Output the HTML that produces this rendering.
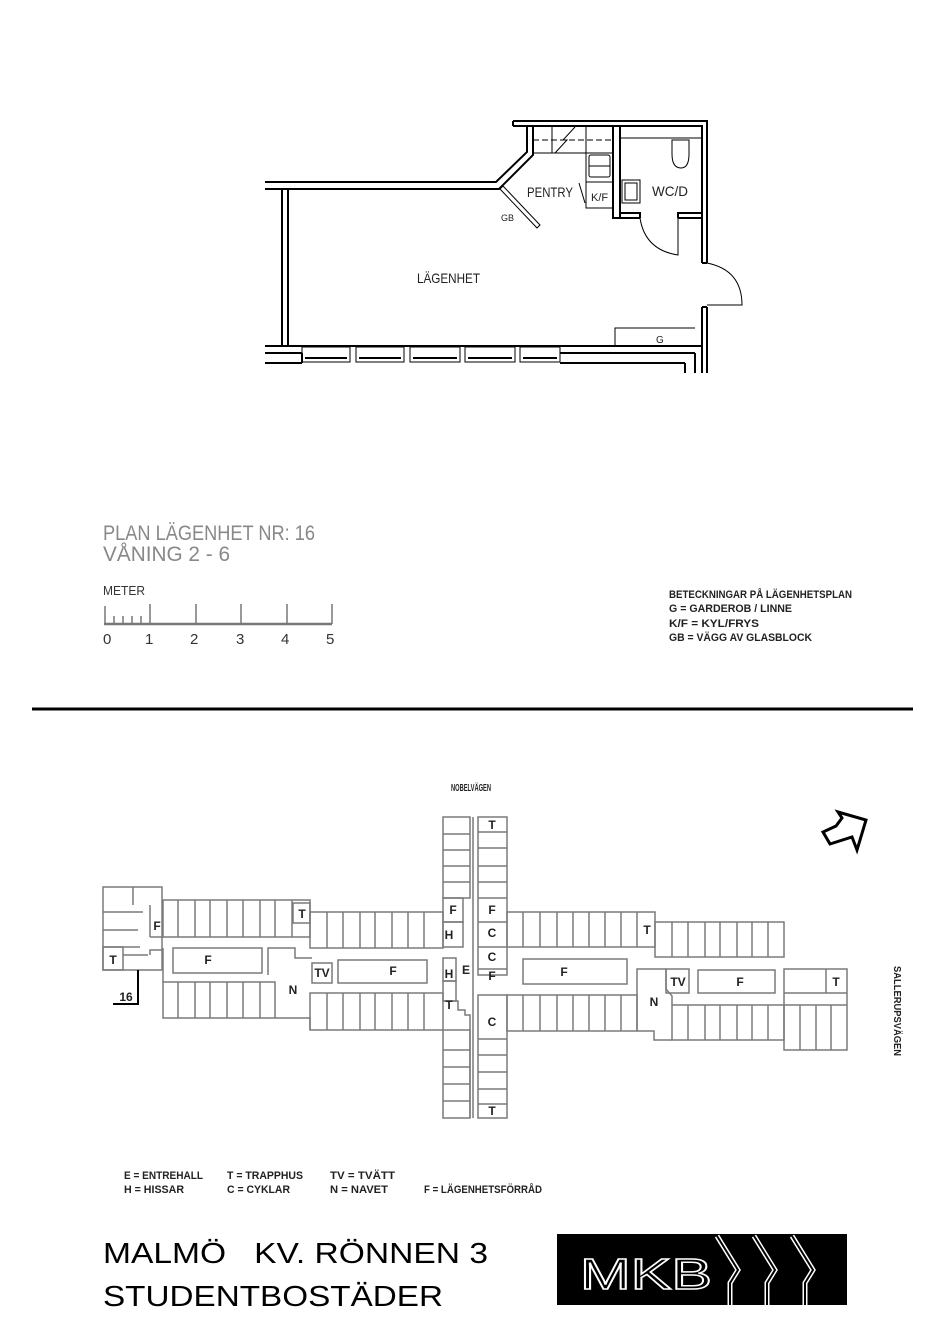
<!DOCTYPE html>
<html><head><meta charset="utf-8"><style>
html,body{margin:0;padding:0;background:#fff;}
svg{display:block;font-family:"Liberation Sans",sans-serif;}
</style></head><body>
<svg width="950" height="1341" viewBox="0 0 950 1341" xmlns="http://www.w3.org/2000/svg">
<rect width="950" height="1341" fill="#fff"/>
<!-- ===== Apartment plan ===== -->
<g fill="none" stroke="#000" stroke-width="2">
  <polyline points="513,121 707,121 707,263"/>
  <polyline points="513,126 702,126 702,263"/>
  <line x1="513" y1="121" x2="513" y2="126"/>
  <polyline points="707,307 707,373"/>
  <polyline points="702,307 702,373"/>
  <line x1="702" y1="263" x2="707" y2="263"/>
  <line x1="702" y1="307" x2="707" y2="307"/>
  <polyline points="265,182 496,182 527,152 527,126"/>
  <polyline points="265,189 499,189 533,155 533,126"/>
  <polyline points="265,189 282,189 282,346"/>
  <polyline points="288,189 288,346"/>
  <line x1="265" y1="346" x2="702" y2="346"/>
  <line x1="265" y1="353" x2="302" y2="353"/>
  <line x1="560" y1="353" x2="695" y2="353"/>
  <line x1="265" y1="363" x2="302" y2="363"/>
  <polyline points="302,363 302,353"/>
  <line x1="695" y1="353" x2="695" y2="373"/>
  <line x1="685" y1="363" x2="685" y2="373"/>
  <line x1="560" y1="363" x2="685" y2="363"/>
  <polyline points="613,126 613,218 620,218 620,126"/>
  <polyline points="620,213 640,213 640,218"/>
  <polyline points="678,218 678,213 702,213"/>
  <line x1="620" y1="218" x2="640" y2="218"/>
  <line x1="678" y1="218" x2="702" y2="218"/>
</g>
<g fill="none" stroke="#000" stroke-width="1">
  <rect x="302" y="347" width="48" height="15"/>
  <rect x="356" y="347" width="48" height="15"/>
  <rect x="410" y="347" width="50" height="15"/>
  <rect x="465" y="347" width="50" height="15"/>
  <rect x="520" y="347" width="40" height="15"/>
  <line x1="305" y1="358" x2="347" y2="358" stroke-width="2"/>
  <line x1="359" y1="358" x2="401" y2="358" stroke-width="2"/>
  <line x1="413" y1="358" x2="457" y2="358" stroke-width="2"/>
  <line x1="468" y1="358" x2="512" y2="358" stroke-width="2"/>
  <line x1="523" y1="358" x2="557" y2="358" stroke-width="2"/>
  <line x1="533" y1="153" x2="613" y2="153"/>
  <line x1="533" y1="140" x2="613" y2="140" stroke-dasharray="6,3"/>
  <line x1="552" y1="126" x2="552" y2="153"/>
  <line x1="586" y1="126" x2="586" y2="208"/>
  <polyline points="555,153 567,140 563,140 575,127"/>
  <rect x="589" y="155" width="21" height="22" rx="2"/>
  <line x1="589" y1="166" x2="610" y2="166"/>
  <rect x="586" y="182" width="27" height="26"/>
  <line x1="579" y1="183" x2="585" y2="203"/>
  <line x1="620" y1="138" x2="702" y2="138"/>
  <path d="M672,140 h17 v14 q0,14 -8,14 q-9,0 -9,-14 z"/>
  <rect x="622" y="180" width="18" height="23"/>
  <rect x="625" y="183" width="12" height="17"/>
  <path d="M640,218 Q645,250 678,255 L678,218"/>
  <path d="M707,263 Q742,270 742,305 L707,305"/>
  <polygon points="500,189 503,186 540,225 537,228"/>
  <polyline points="615,346 615,328 695,328"/>
</g>
<g font-family="'Liberation Sans Narrow','Liberation Sans',sans-serif" fill="#222">
  <text x="527" y="197" font-size="14" textLength="46" lengthAdjust="spacingAndGlyphs">PENTRY</text>
  <text x="591" y="201" font-size="11">K/F</text>
  <text x="652" y="196" font-size="14" textLength="36" lengthAdjust="spacingAndGlyphs">WC/D</text>
  <text x="501" y="221" font-size="9">GB</text>
  <text x="417" y="283" font-size="14" textLength="63" lengthAdjust="spacingAndGlyphs">LÄGENHET</text>
  <text x="656" y="343" font-size="10">G</text>
</g>

<g fill="#888" font-family="'Liberation Sans Narrow','Liberation Sans',sans-serif">
  <text x="103" y="540" font-size="21" textLength="212" lengthAdjust="spacingAndGlyphs">PLAN LÄGENHET NR: 16</text>
  <text x="103" y="561" font-size="21" textLength="127" lengthAdjust="spacingAndGlyphs">VÅNING 2 - 6</text>
</g>
<g fill="#333" font-family="'Liberation Sans Narrow','Liberation Sans',sans-serif">
  <text x="103" y="595" font-size="13" textLength="42" lengthAdjust="spacingAndGlyphs">METER</text>
  <g font-size="15">
    <text x="103" y="644">0</text><text x="145" y="644">1</text><text x="190" y="644">2</text>
    <text x="236" y="644">3</text><text x="281" y="644">4</text><text x="326" y="644">5</text>
  </g>
  <g font-size="11" font-weight="bold" fill="#222">
    <text x="669" y="598" textLength="183" lengthAdjust="spacingAndGlyphs">BETECKNINGAR PÅ LÄGENHETSPLAN</text>
    <text x="669" y="612" textLength="123" lengthAdjust="spacingAndGlyphs">G = GARDEROB / LINNE</text>
    <text x="669" y="627" textLength="90" lengthAdjust="spacingAndGlyphs">K/F = KYL/FRYS</text>
    <text x="669" y="641" textLength="143" lengthAdjust="spacingAndGlyphs">GB = VÄGG AV GLASBLOCK</text>
  </g>
</g>
<g stroke="#777" stroke-width="1.5" fill="none">
  <line x1="104" y1="624" x2="332" y2="624" stroke-width="2.5"/>
  <line x1="105" y1="606" x2="105" y2="624"/>
  <line x1="150" y1="604" x2="150" y2="624"/>
  <line x1="196" y1="604" x2="196" y2="624"/>
  <line x1="241" y1="604" x2="241" y2="624"/>
  <line x1="287" y1="604" x2="287" y2="624"/>
  <line x1="332" y1="604" x2="332" y2="624"/>
  <line x1="114" y1="616" x2="114" y2="624"/><line x1="123" y1="616" x2="123" y2="624"/>
  <line x1="132" y1="616" x2="132" y2="624"/><line x1="141" y1="616" x2="141" y2="624"/>
</g>

<line x1="32" y1="709" x2="913" y2="709" stroke="#000" stroke-width="3"/>

<g fill="none" stroke="#7a7a7a" stroke-width="1.5">
  <rect x="103" y="887" width="59" height="83"/>
  <line x1="103" y1="912" x2="143" y2="912"/>
  <line x1="103" y1="930" x2="138" y2="930"/>
  <line x1="103" y1="947" x2="140" y2="947"/>
  <line x1="133" y1="887" x2="133" y2="905"/>
  <rect x="103" y="947" width="20" height="23"/>
  <line x1="123" y1="955" x2="148" y2="955"/>
  <polyline points="150,955 150,950 162,950"/>
  <line x1="150" y1="905" x2="150" y2="937"/>
  <line x1="150" y1="937" x2="163" y2="937"/>
  <rect x="163" y="900" width="147" height="37"/>
  <line x1="178" y1="900" x2="178" y2="937"/><line x1="195" y1="900" x2="195" y2="937"/>
  <line x1="210" y1="900" x2="210" y2="937"/><line x1="227" y1="900" x2="227" y2="937"/>
  <line x1="243" y1="900" x2="243" y2="937"/><line x1="260" y1="900" x2="260" y2="937"/>
  <line x1="275" y1="900" x2="275" y2="937"/><line x1="292" y1="900" x2="292" y2="937"/>
  <rect x="293" y="903" width="17" height="20"/>
  <rect x="173" y="948" width="89" height="25"/>
  <rect x="163" y="982" width="112" height="36"/>
  <line x1="178" y1="982" x2="178" y2="1018"/><line x1="195" y1="982" x2="195" y2="1018"/>
  <line x1="210" y1="982" x2="210" y2="1018"/><line x1="227" y1="982" x2="227" y2="1018"/>
  <line x1="243" y1="982" x2="243" y2="1018"/><line x1="260" y1="982" x2="260" y2="1018"/>
  <line x1="163" y1="948" x2="163" y2="982"/>
  <polyline points="275,1018 310,1018 310,1030"/>
  <polyline points="268,975 268,948 295,948 295,958 312,958"/>
  <rect x="310" y="912" width="133" height="36"/>
  <line x1="327" y1="912" x2="327" y2="948"/><line x1="343" y1="912" x2="343" y2="948"/>
  <line x1="360" y1="912" x2="360" y2="948"/><line x1="375" y1="912" x2="375" y2="948"/>
  <line x1="392" y1="912" x2="392" y2="948"/><line x1="408" y1="912" x2="408" y2="948"/>
  <line x1="424" y1="912" x2="424" y2="948"/>
  <rect x="310" y="993" width="133" height="37"/>
  <line x1="327" y1="993" x2="327" y2="1030"/><line x1="343" y1="993" x2="343" y2="1030"/>
  <line x1="360" y1="993" x2="360" y2="1030"/><line x1="375" y1="993" x2="375" y2="1030"/>
  <line x1="392" y1="993" x2="392" y2="1030"/><line x1="408" y1="993" x2="408" y2="1030"/>
  <line x1="424" y1="993" x2="424" y2="1030"/>
  <rect x="312" y="963" width="20" height="20"/>
  <rect x="338" y="960" width="89" height="23"/>
  <rect x="443" y="817" width="27" height="81"/>
  <line x1="443" y1="834" x2="470" y2="834"/><line x1="443" y1="850" x2="470" y2="850"/>
  <line x1="443" y1="866" x2="470" y2="866"/><line x1="443" y1="882" x2="470" y2="882"/>
  <rect x="443" y="898" width="20" height="24"/>
  <rect x="443" y="922" width="20" height="25"/>
  <rect x="443" y="958" width="13" height="23"/>
  <rect x="443" y="981" width="13" height="20"/>
  <polyline points="443,1001 458,1001 458,1010 465,1010 465,1015 470,1015 470,1118"/>
  <rect x="443" y="1030" width="27" height="88"/>
  <line x1="443" y1="1050" x2="470" y2="1050"/><line x1="443" y1="1067" x2="470" y2="1067"/>
  <line x1="443" y1="1084" x2="470" y2="1084"/><line x1="443" y1="1101" x2="470" y2="1101"/>
  <line x1="473" y1="817" x2="473" y2="1118"/>
  <rect x="478" y="817" width="29" height="158"/>
  <line x1="478" y1="832" x2="507" y2="832"/><line x1="478" y1="848" x2="507" y2="848"/>
  <line x1="478" y1="866" x2="507" y2="866"/><line x1="478" y1="882" x2="507" y2="882"/>
  <line x1="478" y1="898" x2="507" y2="898"/><line x1="478" y1="922" x2="507" y2="922"/>
  <line x1="478" y1="947" x2="507" y2="947"/><line x1="478" y1="969" x2="507" y2="969"/>
  <rect x="478" y="995" width="29" height="123"/>
  <line x1="478" y1="1039" x2="507" y2="1039"/><line x1="478" y1="1055" x2="507" y2="1055"/>
  <line x1="478" y1="1072" x2="507" y2="1072"/><line x1="478" y1="1089" x2="507" y2="1089"/>
  <line x1="478" y1="1104" x2="507" y2="1104"/>
  <rect x="507" y="912" width="148" height="35"/>
  <line x1="523" y1="912" x2="523" y2="947"/><line x1="540" y1="912" x2="540" y2="947"/>
  <line x1="557" y1="912" x2="557" y2="947"/><line x1="573" y1="912" x2="573" y2="947"/>
  <line x1="589" y1="912" x2="589" y2="947"/><line x1="605" y1="912" x2="605" y2="947"/>
  <line x1="621" y1="912" x2="621" y2="947"/><line x1="637" y1="912" x2="637" y2="947"/>
  <rect x="507" y="995" width="130" height="36"/>
  <line x1="523" y1="995" x2="523" y2="1031"/><line x1="540" y1="995" x2="540" y2="1031"/>
  <line x1="557" y1="995" x2="557" y2="1031"/><line x1="573" y1="995" x2="573" y2="1031"/>
  <line x1="589" y1="995" x2="589" y2="1031"/><line x1="605" y1="995" x2="605" y2="1031"/>
  <line x1="621" y1="995" x2="621" y2="1031"/>
  <rect x="523" y="959" width="104" height="25"/>
  <polyline points="637,1031 637,969 666,969"/>
  <polyline points="637,1031 654,1031 654,1040 672,1040"/>
  <polyline points="666,969 666,989 672,996 672,1005"/>
  <rect x="655" y="922" width="129" height="35"/>
  <line x1="672" y1="922" x2="672" y2="957"/><line x1="688" y1="922" x2="688" y2="957"/>
  <line x1="705" y1="922" x2="705" y2="957"/><line x1="720" y1="922" x2="720" y2="957"/>
  <line x1="737" y1="922" x2="737" y2="957"/><line x1="752" y1="922" x2="752" y2="957"/>
  <line x1="768" y1="922" x2="768" y2="957"/>
  <rect x="666" y="969" width="23" height="24"/>
  <rect x="698" y="970" width="77" height="23"/>
  <rect x="672" y="1005" width="112" height="35"/>
  <line x1="688" y1="1005" x2="688" y2="1040"/><line x1="705" y1="1005" x2="705" y2="1040"/>
  <line x1="720" y1="1005" x2="720" y2="1040"/><line x1="737" y1="1005" x2="737" y2="1040"/>
  <line x1="752" y1="1005" x2="752" y2="1040"/><line x1="768" y1="1005" x2="768" y2="1040"/>
  <rect x="784" y="969" width="63" height="81"/>
  <line x1="784" y1="993" x2="847" y2="993"/>
  <line x1="784" y1="1005" x2="847" y2="1005"/>
  <line x1="826" y1="969" x2="826" y2="993"/>
  <line x1="800" y1="1005" x2="800" y2="1050"/><line x1="816" y1="1005" x2="816" y2="1050"/>
  <line x1="831" y1="1005" x2="831" y2="1050"/>
</g>
<g stroke="#000" stroke-width="2" fill="none">
  <polyline points="113,1004 138,1004 138,970"/>
</g>
<g fill="#222" font-family="'Liberation Sans Narrow','Liberation Sans',sans-serif" font-size="12" font-weight="bold" text-anchor="middle">
  <text x="126" y="1001">16</text>
  <text x="157" y="930">F</text>
  <text x="113" y="964">T</text>
  <text x="208" y="964">F</text>
  <text x="302" y="918">T</text>
  <text x="293" y="994">N</text>
  <text x="322" y="977">TV</text>
  <text x="393" y="975">F</text>
  <text x="453" y="914">F</text>
  <text x="449" y="939">H</text>
  <text x="449" y="978">H</text>
  <text x="466" y="974">E</text>
  <text x="449" y="1009">T</text>
  <text x="492" y="829">T</text>
  <text x="492" y="914">F</text>
  <text x="492" y="937">C</text>
  <text x="492" y="961">C</text>
  <text x="492" y="980">F</text>
  <text x="492" y="1026">C</text>
  <text x="492" y="1115">T</text>
  <text x="647" y="934">T</text>
  <text x="564" y="976">F</text>
  <text x="654" y="1006">N</text>
  <text x="678" y="986">TV</text>
  <text x="740" y="986">F</text>
  <text x="836" y="986">T</text>
  <text x="471" y="791" font-size="10" textLength="40" lengthAdjust="spacingAndGlyphs">NOBELVÄGEN</text>
</g>
<text transform="translate(894,966) rotate(90)" font-family="'Liberation Sans Narrow','Liberation Sans',sans-serif" font-size="10" font-weight="bold" fill="#222" textLength="90" lengthAdjust="spacingAndGlyphs">SALLERUPSVÄGEN</text>
<polygon points="838,812 866,820 857,850 852,837 830,844 823,832 836,826 842,818" fill="none" stroke="#000" stroke-width="3"/>

<g fill="#222" font-family="'Liberation Sans Narrow','Liberation Sans',sans-serif" font-size="11" font-weight="bold">
  <text x="124" y="1179" textLength="79" lengthAdjust="spacingAndGlyphs">E = ENTREHALL</text>
  <text x="124" y="1193" textLength="60" lengthAdjust="spacingAndGlyphs">H = HISSAR</text>
  <text x="227" y="1179" textLength="76" lengthAdjust="spacingAndGlyphs">T = TRAPPHUS</text>
  <text x="227" y="1193" textLength="63" lengthAdjust="spacingAndGlyphs">C = CYKLAR</text>
  <text x="330" y="1179" textLength="65" lengthAdjust="spacingAndGlyphs">TV = TVÄTT</text>
  <text x="330" y="1193" textLength="58" lengthAdjust="spacingAndGlyphs">N = NAVET</text>
  <text x="424" y="1193" textLength="118" lengthAdjust="spacingAndGlyphs">F = LÄGENHETSFÖRRÅD</text>
</g>

<g fill="#000" font-family="'Liberation Sans',sans-serif" font-size="29">
  <text x="103" y="1263" textLength="385" lengthAdjust="spacingAndGlyphs" xml:space="preserve" style="white-space:pre">MALMÖ   KV. RÖNNEN 3</text>
  <text x="103" y="1306" textLength="340" lengthAdjust="spacingAndGlyphs">STUDENTBOSTÄDER</text>
</g>
<rect x="557" y="1234" width="290" height="71" fill="#000"/>
<text x="580" y="1289" fill="#000" stroke="#fff" stroke-width="1.5" font-family="'Liberation Sans',sans-serif" font-size="44" textLength="132" lengthAdjust="spacingAndGlyphs">MKB</text>
<g fill="none" stroke="#fff" stroke-width="5">
  <polyline points="717,1236 738,1270 730,1283 730,1305"/>
  <polyline points="754,1236 775,1270 767,1283 767,1305"/>
  <polyline points="792,1236 813,1270 805,1283 805,1305"/>
</g>
<g fill="none" stroke="#000" stroke-width="2">
  <polyline points="717,1236 738,1270 730,1283 730,1305"/>
  <polyline points="754,1236 775,1270 767,1283 767,1305"/>
  <polyline points="792,1236 813,1270 805,1283 805,1305"/>
</g>
</svg>
</body></html>
